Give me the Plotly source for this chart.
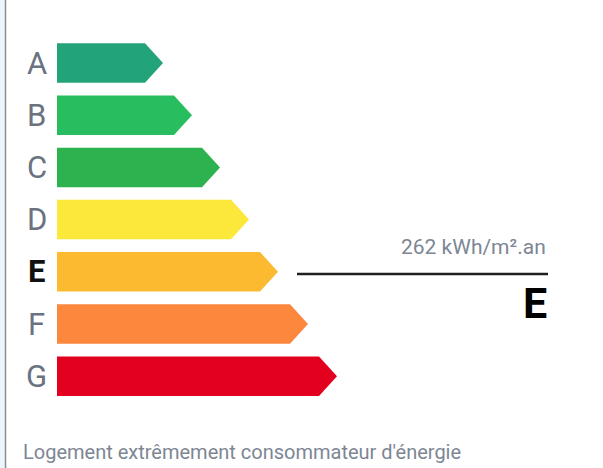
import plotly.graph_objects as go

# ---- data ----
categories = ["A", "B", "C", "D", "E", "F", "G"]
bar_lengths = [106, 135, 163, 192, 221, 251, 280]
bar_colors = ["#22a37a", "#28bd5e", "#2cb24f", "#fce83a", "#fbba30", "#fd873d", "#e2001e"]
rating = "E"
consumption = 262
unit = "kWh/m².an"
footer_text = "Logement extrêmement consommateur d'énergie"

# ---- layout constants ----
W, H = 603, 468
X0 = 57          # bar start
TIP = 18         # arrow tip depth
HALF = 0.378     # half bar height (category units)
FONT = "Roboto, 'Open Sans', sans-serif"
GRAY = "#6b7280"
LIGHTGRAY = "#7d8694"

fig = go.Figure()

for i, (cat, L, col) in enumerate(zip(categories, bar_lengths, bar_colors)):
    xs = [X0, X0 + L - TIP, X0 + L, X0 + L - TIP, X0, X0]
    ys = [i - HALF, i - HALF, i, i + HALF, i + HALF, i - HALF]
    fig.add_trace(go.Scatter(x=xs, y=ys, fill="toself", fillcolor=col,
                             mode="lines", line=dict(width=0, color=col),
                             hoverinfo="skip", showlegend=False))
    is_r = cat == rating
    fig.add_annotation(x=36.5, y=i, xref="x", yref="y", showarrow=False,
                       text=f"<b>{cat}</b>" if is_r else cat,
                       xanchor="center", yanchor="middle",
                       font=dict(family=FONT, size=31,
                                 color="#111111" if is_r else GRAY))

ri = categories.index(rating)
line_y = ri + 0.04
fig.add_shape(type="line", xref="x", yref="y", x0=297, x1=548, y0=line_y, y1=line_y,
              line=dict(color="#1f1f1f", width=2.5))
fig.add_annotation(x=548, y=ri - 0.47, xref="x", yref="y", showarrow=False,
                   text=f"{consumption} {unit}", xanchor="right", yanchor="middle",
                   font=dict(family=FONT, size=21, color=LIGHTGRAY))
fig.add_annotation(x=549, y=ri + 0.6, xref="x", yref="y", showarrow=False,
                   text=f"<b>{rating}</b>", xanchor="right", yanchor="middle",
                   font=dict(family=FONT, size=43, color="#000000"))

fig.add_annotation(x=21 / W, y=(H - 452) / H, xref="paper", yref="paper", showarrow=False,
                   text=footer_text, xanchor="left", yanchor="middle",
                   font=dict(family=FONT, size=20, color=LIGHTGRAY))

# left border
fig.add_shape(type="rect", xref="paper", yref="paper", x0=0, x1=4.5 / W, y0=0, y1=1,
              fillcolor="#eaf5fd", line=dict(width=0), layer="below")
fig.add_shape(type="line", xref="paper", yref="paper", x0=5.5 / W, x1=5.5 / W, y0=0, y1=1,
              line=dict(color="#8a8a8a", width=1.5))

pitch = 52.2
r0 = -63 / pitch
r1 = r0 + H / pitch
fig.update_layout(
    width=W, height=H, margin=dict(l=0, r=0, t=0, b=0),
    paper_bgcolor="white", plot_bgcolor="white",
    xaxis=dict(range=[0, W], visible=False, fixedrange=True),
    yaxis=dict(range=[r1, r0], visible=False, fixedrange=True),
    showlegend=False,
)

fig.write_html("out.html", config={"displayModeBar": False},
               post_script="document.body.style.margin='0';document.body.style.overflow='hidden';")
